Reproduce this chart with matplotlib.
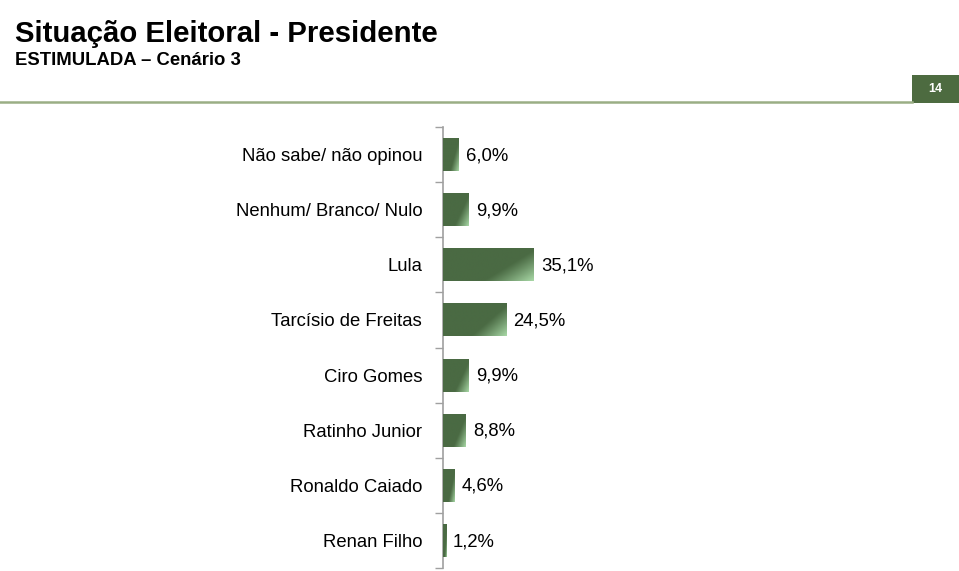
import numpy as np
import matplotlib
matplotlib.use("Agg")
import matplotlib.pyplot as plt
from matplotlib.patches import Rectangle
from matplotlib.colors import to_rgb

plt.rcParams['font.family'] = ['Liberation Sans', 'DejaVu Sans']

categories = ["Não sabe/ não opinou", "Nenhum/ Branco/ Nulo", "Lula",
              "Tarcísio de Freitas", "Ciro Gomes", "Ratinho Junior",
              "Ronaldo Caiado", "Renan Filho"]
values = [6.0, 9.9, 35.1, 24.5, 9.9, 8.8, 4.6, 1.2]
value_labels = ["6,0%", "9,9%", "35,1%", "24,5%", "9,9%", "8,8%", "4,6%", "1,2%"]
title = "Situação Eleitoral - Presidente"
subtitle = "ESTIMULADA – Cenário 3"
page_number = "14"

W, H = 959, 571
fig = plt.figure(figsize=(W / 100, H / 100), dpi=100)

# Header
fig.text(15 / W, 1 - 42 / H, title, fontsize=21.2, fontweight='bold',
         ha='left', va='baseline', color='black')
fig.text(15 / W, 1 - 65 / H, subtitle, fontsize=13.3, fontweight='bold',
         ha='left', va='baseline', color='black')
fig.add_artist(plt.Line2D([0, 912 / W], [1 - 102 / H, 1 - 102 / H],
                          color='#9aae85', lw=1.8, transform=fig.transFigure))
fig.add_artist(Rectangle((912 / W, 1 - 103 / H), 47 / W, 28 / H,
                         facecolor='#4d6b40', edgecolor='none',
                         transform=fig.transFigure))
fig.text(935.5 / W, 1 - 89.5 / H, page_number, fontsize=9, fontweight='bold',
         color='white', ha='center', va='center')

# Axes
ax_left, ax_right = 443 / W, 905 / W
ax_top, ax_bot = 1 - 127 / H, 1 - 568 / H
ax = fig.add_axes([ax_left, ax_bot, ax_right - ax_left, ax_top - ax_bot])
px_per_unit = (534 - 443) / 35.1
xmax = (905 - 443) / px_per_unit
ax.set_xlim(0, xmax)
ax.set_ylim(len(categories) - 0.5, -0.5)

dark = np.array(to_rgb('#4a6a43'))
light = np.array(to_rgb('#a8d8a6'))
bar_h = 0.6
n = len(categories)
for i, v in enumerate(values):
    rect = Rectangle((0, i - bar_h / 2), v, bar_h, facecolor='#4a6a43',
                     edgecolor='none', zorder=2)
    ax.add_patch(rect)
    nu, nv = 120, 40
    u = np.linspace(0, 1, nu)[None, :]
    w = np.linspace(0, 1, nv)[:, None]
    t = np.clip((u + 0.6 * w - 1.05) / 0.55, 0, 1) ** 1.1
    img = dark[None, None, :] * (1 - t[..., None]) + light[None, None, :] * t[..., None]
    im = ax.imshow(img, extent=(0, v, i + bar_h / 2, i - bar_h / 2),
                   origin='upper', aspect='auto', zorder=3, interpolation='bilinear')
    im.set_clip_path(rect)
    ax.text(v + 7 / px_per_unit, i + 0.02, value_labels[i], fontsize=13.3,
            va='center', ha='left', color='black', zorder=4)

ax.set_yticks(range(n))
ax.set_yticklabels(categories, fontsize=13.3)
ax.tick_params(axis='y', which='major', length=0, pad=15)
ax.set_yticks(np.arange(-0.5, n, 1.0), minor=True)
ax.tick_params(axis='y', which='minor', length=6, width=1, color='#a0a0a0',
               direction='out')
ax.set_xticks([])
for s in ['top', 'right', 'bottom']:
    ax.spines[s].set_visible(False)
ax.spines['left'].set_color('#a0a0a0')
ax.spines['left'].set_linewidth(1.2)
ax.set_facecolor('none')

fig.savefig('out.png', dpi=100)
